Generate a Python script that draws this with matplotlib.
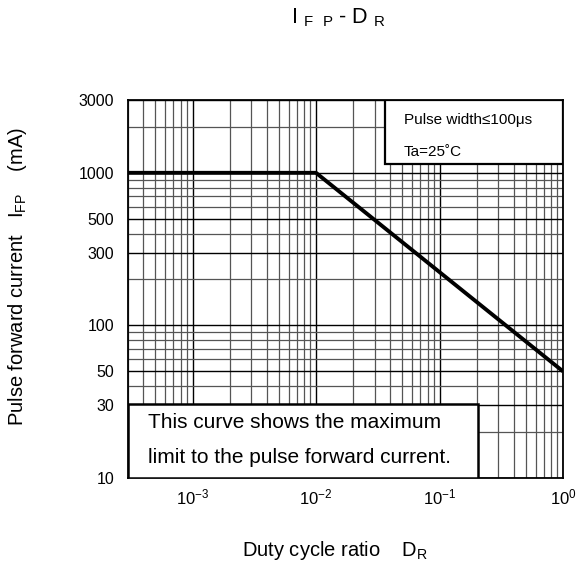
import numpy as np
import matplotlib
matplotlib.use("Agg")
import matplotlib.pyplot as plt
from matplotlib.patches import Rectangle
from matplotlib.ticker import LogLocator, NullFormatter

plt.rcParams['font.family'] = ['Liberation Sans', 'DejaVu Sans']
plt.rcParams['mathtext.fontset'] = 'custom'
plt.rcParams['mathtext.rm'] = 'Liberation Sans'

# curve: flat to D=0.01 then falling to 50 mA at D=1
duty = [3e-4, 1e-2, 1.0]
ifp = [1000, 1000, 50]

x_ticks = [1e-3, 1e-2, 1e-1, 1.0]
x_labels = [r'$\mathregular{10^{-3}}$', r'$\mathregular{10^{-2}}$',
            r'$\mathregular{10^{-1}}$', r'$\mathregular{10^{0}}$']
y_ticks = [10, 30, 50, 100, 300, 500, 1000, 3000]
y_labels = ['10', '30', '50', '100', '300', '500', '1000', '3000']

fig = plt.figure(figsize=(5.77, 5.66), dpi=100)
ax = fig.add_axes([0.2218, 0.1555, 0.7539, 0.6678])

ax.plot(duty, ifp, color='black', lw=2.8, zorder=4, solid_capstyle='butt')

ax.set_xscale('log')
ax.set_yscale('log')
ax.set_xlim(3e-4, 1.0)
ax.set_ylim(10, 3000)

ax.xaxis.set_minor_locator(LogLocator(base=10, subs=np.arange(2, 10)))
ax.yaxis.set_minor_locator(LogLocator(base=10, subs=np.arange(2, 10)))
ax.xaxis.set_minor_formatter(NullFormatter())
ax.yaxis.set_minor_formatter(NullFormatter())
ax.set_xticks(x_ticks)
ax.set_xticklabels(x_labels, fontsize=12)
ax.set_yticks(y_ticks)
ax.set_yticklabels(y_labels, fontsize=11.5)
ax.tick_params(which='both', length=0)
ax.tick_params(axis='x', pad=7)
ax.tick_params(axis='y', pad=10)

ax.grid(which='major', color='black', lw=1.0)
ax.grid(which='minor', color='#555555', lw=0.9)
ax.set_axisbelow(True)
for s in ax.spines.values():
    s.set_linewidth(1.3)

# condition box, top right
ax.add_patch(Rectangle((0.591, 0.831), 0.409, 0.169, transform=ax.transAxes,
                       facecolor='white', edgecolor='black', lw=1.6, zorder=5))
ax.text(0.634, 0.947, 'Pulse width≤100μs', transform=ax.transAxes,
        fontsize=11, va='center', zorder=6)
ax.text(0.634, 0.862, 'Ta=25˚C', transform=ax.transAxes,
        fontsize=11, va='center', zorder=6)

# note box, bottom left
ax.add_patch(Rectangle((0.0, 0.0), 0.805, 0.196, transform=ax.transAxes,
                       facecolor='white', edgecolor='black', lw=1.8, zorder=5))
ax.text(0.046, 0.1455, 'This curve shows the maximum', transform=ax.transAxes,
        fontsize=15, va='center', zorder=6)
ax.text(0.046, 0.053, 'limit to the pulse forward current.', transform=ax.transAxes,
        fontsize=15, va='center', zorder=6)

fig.text(0.586, 0.968, r'I $_{\mathregular{F\ \ P}}$ - D $_{\mathregular{R}}$',
         ha='center', va='center', fontsize=15.5)
fig.text(0.581, 0.028, r'Duty cycle ratio    D$_{\mathregular{R}}$',
         ha='center', va='center', fontsize=14.5)
fig.text(0.031, 0.512, r'Pulse forward current   I$_{\mathregular{FP}}$    (mA)',
         ha='center', va='center', rotation=90, fontsize=14.5)

fig.savefig('out.png', dpi=100)
